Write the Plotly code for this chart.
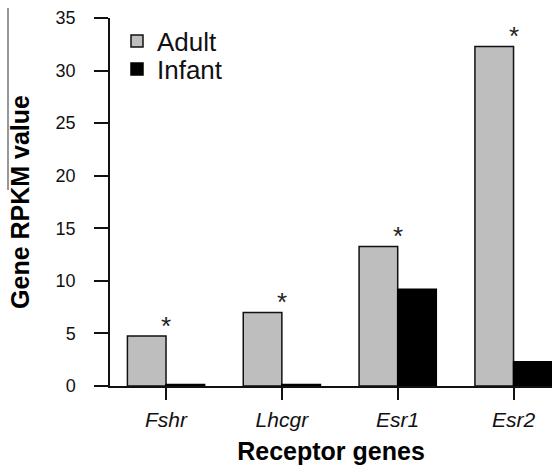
import plotly.graph_objects as go

genes = ["Fshr", "Lhcgr", "Esr1", "Esr2"]
adult = [4.75, 7.0, 13.27, 32.3]
infant = [0.15, 0.15, 9.2, 2.3]
significant = [True, True, True, True]
y_ticks = [0, 5, 10, 15, 20, 25, 30, 35]

W, H = 552, 468
L, R, T, B = 110, 0, 18, 82
FONT = "Liberation Sans, Arial, sans-serif"

fig = go.Figure()
fig.add_trace(go.Bar(
    x=genes, y=adult, name="Adult", legend="legend",
    marker=dict(color="#BEBEBE", line=dict(color="#111111", width=1.5)),
))
fig.add_trace(go.Bar(
    x=genes, y=infant, name="Infant", legend="legend2",
    marker=dict(color="#000000", line=dict(color="#000000", width=1.5)),
))

for g, a, s in zip(genes, adult, significant):
    if s:
        fig.add_annotation(x=g, y=a, text="*", showarrow=False,
                           yanchor="bottom", yshift=-7,
                           font=dict(family=FONT, size=26, color="#222222"))

def px_x(p):
    return (p - L) / (W - L - R)

def px_y(p):
    return (H - B - p) / (H - T - B)

fig.update_layout(
    width=W, height=H,
    margin=dict(l=L, r=R, t=T, b=B, autoexpand=False),
    paper_bgcolor="white", plot_bgcolor="white",
    barmode="group", bargap=1/3, bargroupgap=0,
    font=dict(family=FONT, color="#111111"),
    legend=dict(x=px_x(117), y=px_y(41), xanchor="left", yanchor="middle",
                font=dict(family=FONT, size=26, color="#111111"),
                bgcolor="rgba(0,0,0,0)", borderwidth=0),
    legend2=dict(x=px_x(117), y=px_y(69), xanchor="left", yanchor="middle",
                 font=dict(family=FONT, size=26, color="#111111"),
                 bgcolor="rgba(0,0,0,0)", borderwidth=0),
    xaxis=dict(
        type="category", range=[-0.4836, 3.332],
        showline=True, linecolor="#111111", linewidth=1.5,
        ticks="outside", ticklen=12, tickwidth=1.5, tickcolor="#111111",
        tickfont=dict(family=FONT, size=21, style="italic", color="#111111"),
        ticklabelstandoff=2,
        showgrid=False, zeroline=False,
        title=dict(text="Receptor genes", standoff=13,
                   font=dict(family=FONT, size=25, weight="bold", color="#000000")),
    ),
    yaxis=dict(
        range=[0, 35], tickvals=y_ticks,
        showline=True, linecolor="#111111", linewidth=1.5,
        ticks="outside", ticklen=14, tickwidth=1.5, tickcolor="#111111",
        tickfont=dict(family=FONT, size=18, color="#111111"),
        ticklabelstandoff=15,
        showgrid=False, zeroline=False,
        title=dict(text="Gene RPKM value", standoff=19,
                   font=dict(family=FONT, size=25, weight="bold", color="#000000")),
    ),
    showlegend=True,
)

fig.add_shape(type="line", xref="paper", yref="paper",
              x0=px_x(8), x1=px_x(8), y0=px_y(8), y1=px_y(190),
              line=dict(color="#333333", width=1))

fig.write_html("out.html")
